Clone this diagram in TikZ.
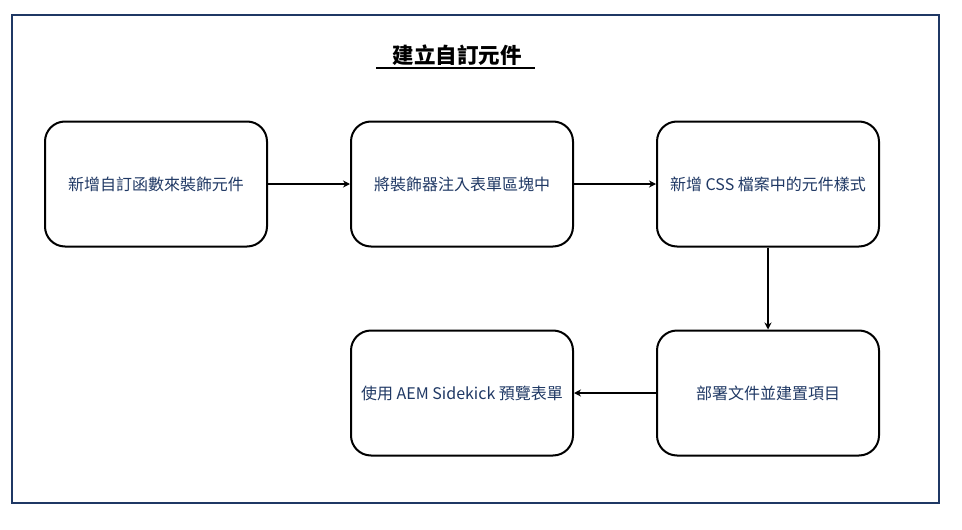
\documentclass[tikz,border=0pt]{standalone}
\usepackage{fontspec}
\setmainfont{Noto Sans CJK TC}
\usetikzlibrary{arrows.meta}
\definecolor{navy}{HTML}{1F3864}
\begin{document}
\begin{tikzpicture}[x=1pt,y=-1pt,
  stepbox/.style={draw,line width=2pt,rounded corners=20pt,minimum width=222pt,minimum height=125pt,text=navy,font=\fontsize{16}{19}\selectfont},
  flow/.style={line width=2pt,-{Stealth[length=7pt,width=7pt]}}]
\useasboundingbox (0,0) rectangle (962,530);
\draw[navy,line width=1.1pt] (12,15) rectangle (939,503);
\node[font=\fontsize{21.5}{24}\selectfont\bfseries] (title) at (457,55) {建立自訂元件};
\draw[line width=2.2pt] (376,68) -- (535,68);
\node[stepbox] (add) at (156,184) {新增自訂函數來裝飾元件};
\node[stepbox] (inject) at (462,184) {將裝飾器注入表單區塊中};
\node[stepbox] (css) at (768,184) {新增 CSS 檔案中的元件樣式};
\node[stepbox] (deploy) at (768,393) {部署文件並建置項目};
\node[stepbox] (preview) at (462,393) {使用 AEM Sidekick 預覽表單};
\draw[flow] (add) -- (inject);
\draw[flow] (inject) -- (css);
\draw[flow] (css) -- (deploy);
\draw[flow] (deploy) -- (preview);
\end{tikzpicture}
\end{document}
